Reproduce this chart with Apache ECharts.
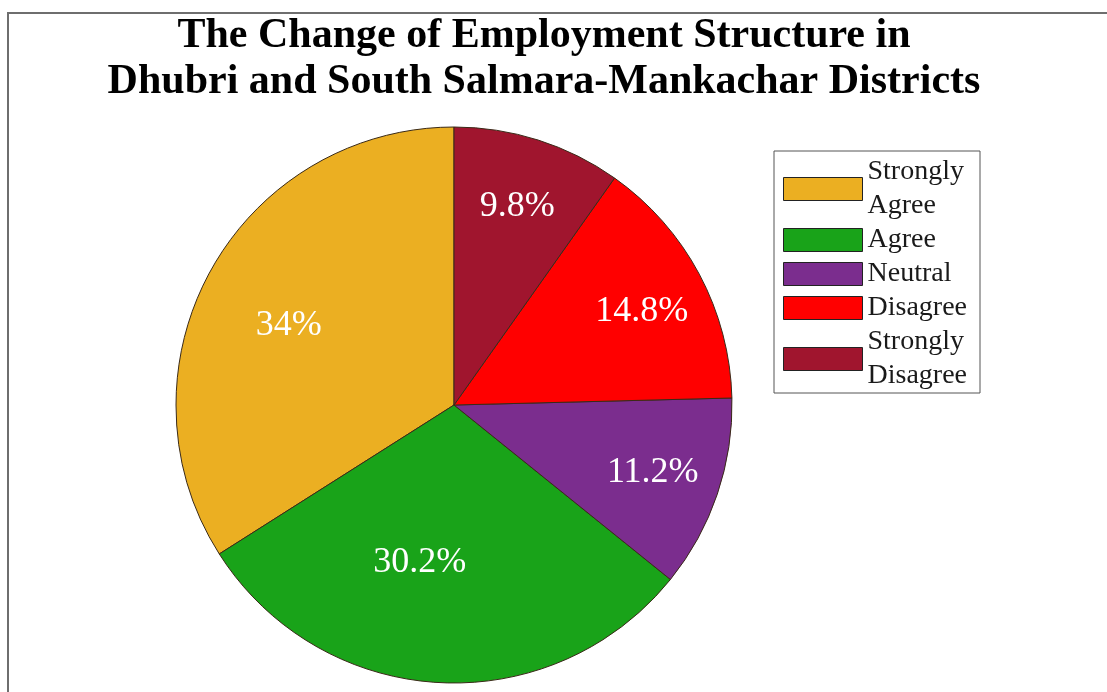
<!DOCTYPE html>
<html>
<head>
<meta charset="utf-8">
<script src="https://cdn.jsdelivr.net/npm/echarts@6/dist/echarts.min.js"></script>
<style>
  html, body { margin: 0; padding: 0; background: #fff; }
  #chart { width: 1107px; height: 692px; }
</style>
</head>
<body>
<div id="chart"></div>
<script>
// Survey responses: share of each answer, in percent
const categories = ['Strongly Agree', 'Agree', 'Neutral', 'Disagree', 'Strongly Disagree'];
const shares = [34, 30.2, 11.2, 14.8, 9.8];
const sliceColors = ['#EBAF22', '#19A319', '#7B2D8E', '#FF0000', '#A0152E'];
const titleText = 'The Change of Employment Structure in\nDhubri and South Salmara-Mankachar Districts';

const serif = '"Liberation Serif", "DejaVu Serif", serif';
const CENTER = [454, 405];
const RADIUS = 278;
// label placement: fraction of the radius, and a turn (degrees) off the slice's middle
const labelReach = [0.66, 0.58, 0.755, 0.755, 0.75];
const labelTurn = [3, -9, 0, -1.5, 0];

const total = shares.reduce((a, b) => a + b, 0);
function midAngle(i) {
  let before = 0;
  for (let k = 0; k < i; k++) before += shares[k];
  const deg = 90 + (before + shares[i] / 2) / total * 360 + labelTurn[i]; // counter-clockwise from top
  return deg * Math.PI / 180;
}

const chart = echarts.init(document.getElementById('chart'), null, { renderer: 'canvas' });
chart.setOption({
  backgroundColor: '#fff',
  animation: false,
  graphic: [{
    type: 'rect',
    shape: { x: 8, y: 13, width: 1120, height: 700 },
    style: { fill: 'none', stroke: '#6e6e6e', lineWidth: 2 },
    silent: true, z: -1
  }],
  title: {
    text: titleText,
    left: 539, top: 8, textAlign: 'center',
    textStyle: { fontFamily: serif, fontWeight: 'bold', fontSize: 42, lineHeight: 46, color: '#000' }
  },
  legend: {
    orient: 'vertical',
    left: 774, top: 151,
    data: categories,
    icon: 'rect',
    itemWidth: 79, itemHeight: 23, itemGap: 0,
    padding: [4, 13, 0, 9],
    borderColor: '#555', borderWidth: 1,
    formatter: n => n.replace(' ', '\n'),
    itemStyle: { borderColor: '#222', borderWidth: 1 },
    textStyle: { fontFamily: serif, fontSize: 28, lineHeight: 34, color: '#1a1a1a' }
  },
  series: [{
    type: 'pie',
    center: CENTER,
    radius: RADIUS,
    startAngle: 90,
    clockwise: false,
    avoidLabelOverlap: false,
    itemStyle: { borderColor: '#3a2a18', borderWidth: 1 },
    label: {
      show: true, position: 'inside',
      formatter: '{c}%',
      fontFamily: serif, fontSize: 36, color: '#fff'
    },
    labelLine: { show: false },
    labelLayout: p => {
      const a = midAngle(p.dataIndex);
      const r = RADIUS * labelReach[p.dataIndex];
      return { x: CENTER[0] + r * Math.cos(a), y: CENTER[1] - r * Math.sin(a), align: 'center', verticalAlign: 'middle' };
    },
    data: categories.map((name, i) => ({ name, value: shares[i], itemStyle: { color: sliceColors[i] } }))
  }]
});
</script>
</body>
</html>
